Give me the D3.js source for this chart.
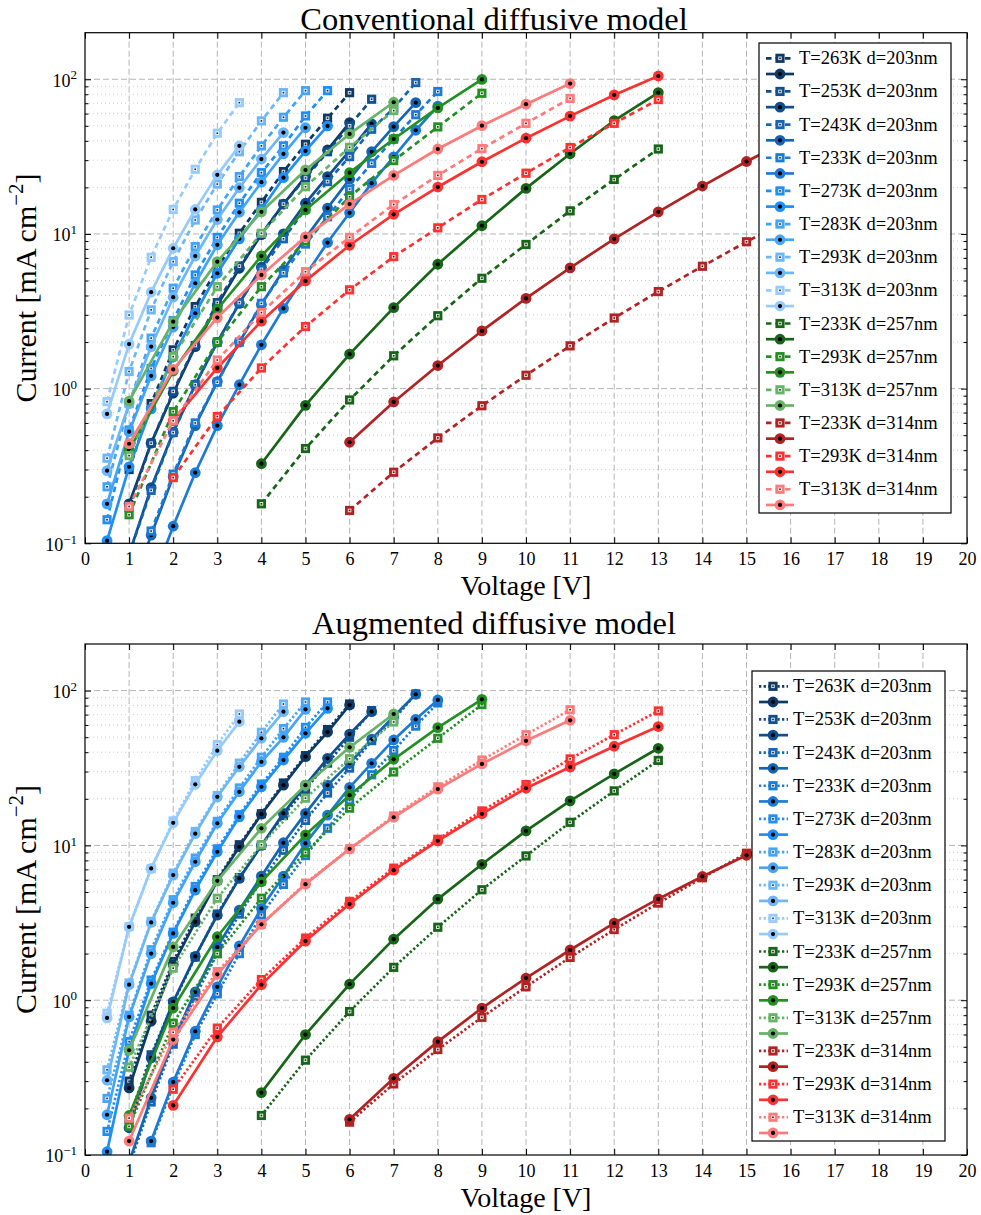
<!DOCTYPE html>
<html>
<head>
<meta charset="utf-8">
<script src="https://cdn.jsdelivr.net/npm/d3@7"></script>
<style>
  body { margin: 0; background: #fff; }
  text { font-family: "Liberation Serif", "DejaVu Serif", serif; fill: #000; }
</style>
</head>
<body>
<svg id="chart" width="981" height="1215"></svg>
<script>
// ---- J-V data: measured current density (mA cm^-2) and two model fits ----
const seriesNames = [
  "T=263K d=203nm", "T=253K d=203nm", "T=243K d=203nm", "T=233K d=203nm",
  "T=273K d=203nm", "T=283K d=203nm", "T=293K d=203nm", "T=313K d=203nm",
  "T=233K d=257nm", "T=293K d=257nm", "T=313K d=257nm",
  "T=233K d=314nm", "T=293K d=314nm", "T=313K d=314nm"
];
const seriesColors = [
  "#0f3a66", "#104f8f", "#1565b5", "#1c7bd6",
  "#1f8ff5", "#44a4f8", "#6db7f9", "#96cbfb",
  "#176617", "#239023", "#66b366",
  "#b22222", "#ff3030", "#ff7a7a"
];

// d = 203 nm
const v263 = [1, 1.5, 2, 2.5, 3, 3.5, 4, 4.5, 5, 5.5, 6];
const meas263 = [0.30, 0.80, 1.78, 3.39, 6.0, 10.1, 16.0, 25.3, 38.0, 56, 81.9];
const conv263 = [0.18, 0.444, 0.934, 1.87, 3.45, 6.0, 9.9, 15.6, 23.5, 34.9, 52.4];
const aug263 = [0.271, 0.731, 1.7, 3.21, 5.9, 9.8, 15.9, 24.5, 37.4, 54, 80.7];

const v253 = [1, 1.5, 2, 2.5, 3, 3.5, 4, 4.5, 5, 5.5, 6, 6.5];
const meas253 = [0.17, 0.444, 0.96, 1.9, 3.6, 6.2, 10.0, 15.6, 23.0, 34.0, 50.0, 74.3];
const conv253 = [0.085, 0.229, 0.523, 1.06, 2.0, 3.56, 6.1, 10.0, 15.8, 23.5, 34.5, 51.4];
const aug253 = [0.15, 0.424, 0.975, 1.92, 3.54, 6.12, 10.0, 16.1, 24.5, 36.5, 52.4, 73.1];

const v243 = [1, 1.5, 2, 2.5, 3, 3.5, 4, 4.5, 5, 5.5, 6, 6.5, 7, 7.5];
const meas243 = [0.085, 0.22, 0.52, 1.06, 2.0, 3.6, 5.9, 9.3, 14.5, 21.8, 31.6, 47.5, 65, 95.2];
const conv243 = [0.045, 0.113, 0.27, 0.577, 1.11, 2.0, 3.5, 5.85, 9.4, 14.7, 22.6, 34.0, 49.4, 70.6];
const aug243 = [0.09, 0.234, 0.55, 1.13, 2.2, 3.82, 6.33, 10.4, 16.1, 24.5, 34.0, 48.5, 68, 94.7];

const v233 = [1.5, 2, 2.5, 3, 3.5, 4, 4.5, 5, 5.5, 6, 6.5, 7, 7.5, 8];
const meas233 = [0.12, 0.28, 0.60, 1.1, 2.0, 3.56, 5.6, 8.6, 12.9, 19.5, 28.6, 41, 59, 83.3];
const conv233 = [0.054, 0.129, 0.286, 0.577, 1.06, 1.92, 3.3, 5.4, 8.8, 13.7, 21.3, 31.5, 46.8, 67];
const aug233 = [0.123, 0.296, 0.63, 1.22, 2.24, 3.92, 6.33, 10.3, 15.7, 23.7, 33.9, 48, 65.2, 87];

const v273 = [0.5, 1, 1.5, 2, 2.5, 3, 3.5, 4, 4.5, 5, 5.5];
const meas273 = [0.142, 0.54, 1.35, 2.75, 5.43, 9.5, 15.8, 24.9, 37.1, 57.9, 84.4];
const conv273 = [0.104, 0.312, 0.74, 1.6, 3.07, 5.57, 9.3, 14.4, 23.1, 34.4, 49.9];
const aug273 = [0.105, 0.48, 1.28, 2.7, 5.14, 9.1, 15.3, 23.9, 35.6, 53, 76.8];

const v283 = [0.5, 1, 1.5, 2, 2.5, 3, 3.5, 4, 4.5, 5];
const meas283 = [0.232, 0.80, 2.12, 4.46, 8.28, 14.3, 23.5, 37.1, 56.8, 84.4];
const conv283 = [0.18, 0.527, 1.21, 2.5, 4.8, 8.5, 13.8, 21.6, 32.9, 48.6];
const aug283 = [0.182, 0.78, 2.0, 4.26, 7.84, 13.9, 22.2, 34.7, 49.9, 75.7];

const v293 = [0.5, 1, 1.5, 2, 2.5, 3, 3.5, 4, 4.5];
const meas293 = [0.355, 1.29, 3.23, 6.62, 12.3, 21.0, 34.0, 53.8, 81.9];
const conv293 = [0.295, 0.8, 1.87, 3.9, 7.2, 12.4, 19.9, 30.5, 45.2];
const aug293 = [0.304, 1.26, 3.18, 6.43, 11.9, 20.6, 32.2, 49.2, 73.1];

const v313 = [0.5, 1, 1.5, 2, 2.5, 3, 3.5];
const meas313 = [0.824, 2.99, 7.07, 14.4, 26.2, 44.8, 70.6];
const conv313 = [0.686, 1.94, 4.2, 8.08, 14.4, 24.1, 37.1];
const aug313 = [0.768, 2.98, 7.1, 14.0, 24.8, 40.9, 63];

// d = 257 nm
const v233b = [4, 5, 6, 7, 8, 9, 10, 11, 12, 13];
const meas233b = [0.18, 0.41, 0.845, 1.63, 2.96, 5.17, 8.55, 14.1, 22.5, 35.4];
const conv233b = [0.327, 0.78, 1.67, 3.34, 6.37, 11.3, 19.7, 33.0, 54, 82];
const aug233b = [0.253, 0.60, 1.27, 2.48, 4.5, 7.55, 12.4, 19.4, 29.0, 42.4];

const v293b = [1, 2, 3, 4, 5, 6, 7, 8, 9];
const meas293b = [0.153, 0.71, 2.0, 4.56, 9.0, 17.4, 29.8, 49.2, 81.2];
const conv293b = [0.40, 1.3, 3.26, 7.2, 14.3, 24.9, 41.1, 65.3, 99.7];
const aug293b = [0.18, 0.89, 2.57, 5.82, 11.7, 21.1, 36, 57.7, 87.8];

const v313b = [1, 2, 3, 4, 5, 6, 7];
const meas313b = [0.369, 1.61, 4.56, 10.1, 20.2, 36.3, 62.7];
const conv313b = [0.83, 2.71, 6.62, 13.9, 25.9, 44.3, 71.0];
const aug313b = [0.475, 2.21, 5.9, 12.9, 24.5, 43, 70.6];

// d = 314 nm
const v233c = [6, 7, 8, 9, 10, 11, 12, 13, 14, 15, 16];
const meas233c = [0.163, 0.288, 0.48, 0.775, 1.22, 1.89, 2.86, 4.24, 6.18, 8.9, 12.5];
const conv233c = [0.45, 0.82, 1.41, 2.36, 3.83, 6.03, 9.3, 13.9, 20.4, 29.4, 41];
const aug233c = [0.17, 0.313, 0.54, 0.89, 1.39, 2.11, 3.15, 4.51, 6.3, 8.63, 11.8];

const v293c = [2, 3, 4, 5, 6, 7, 8, 9, 10, 11, 12, 13];
const meas293c = [0.266, 0.66, 1.36, 2.52, 4.35, 7.13, 10.95, 16.7, 24.7, 36.2, 51.9, 73.9];
const conv293c = [0.62, 1.36, 2.73, 4.97, 8.45, 13.4, 20.1, 29.3, 41.6, 57.8, 79.2, 105];
const aug293c = [0.209, 0.58, 1.26, 2.41, 4.18, 6.92, 10.7, 16.0, 23.4, 32.1, 43.7, 58.6];

const v313c = [1, 2, 3, 4, 5, 6, 7, 8, 9, 10, 11];
const meas313c = [0.173, 0.62, 1.53, 3.1, 5.7, 9.5, 15.5, 23.9, 35.6, 51.9, 75.2];
const conv313c = [0.44, 1.33, 2.88, 5.43, 9.57, 15.6, 23.9, 35.4, 50.1, 69, 93.8];
const aug313c = [0.123, 0.557, 1.47, 3.09, 5.62, 9.5, 15.2, 23.1, 33.6, 47.4, 64.3];

// axis ticks
const voltageTicks = d3.range(0, 21);
const currentMajorTicks = [0.1, 1, 10, 100];
const currentExponents = ["\u22121", "0", "1", "2"];

// series table assembled in legend order
const voltages = [v263, v253, v243, v233, v273, v283, v293, v313, v233b, v293b, v313b, v233c, v293c, v313c];
const measured = [meas263, meas253, meas243, meas233, meas273, meas283, meas293, meas313, meas233b, meas293b, meas313b, meas233c, meas293c, meas313c];
const conventional = [conv263, conv253, conv243, conv233, conv273, conv283, conv293, conv313, conv233b, conv293b, conv313b, conv233c, conv293c, conv313c];
const augmented = [aug263, aug253, aug243, aug233, aug273, aug283, aug293, aug313, aug233b, aug293b, aug313b, aug233c, aug293c, aug313c];

const series = seriesNames.map((name, i) => ({
  name, color: seriesColors[i],
  meas: voltages[i].map((v, k) => [v, measured[i][k]]),
  conv: voltages[i].map((v, k) => [v, conventional[i][k]]),
  aug: voltages[i].map((v, k) => [v, augmented[i][k]])
}));

// ---- layout ----
const svg = d3.select("#chart");
const plotL = 85, plotR = 967;
const panels = [
  { title: "Conventional diffusive model", titleY: 30, top: 32.7, bottom: 543.3, model: "conv",
    dash: "5.5,4", legend: { x: 759, y: 43, w: 192, h: 470, lx0: 766, lx1: 794, mx: 780, tx: 799 } },
  { title: "Augmented diffusive model", titleY: 634, top: 644, bottom: 1155, model: "aug",
    dash: "2.3,2.3", legend: { x: 752, y: 671, w: 193, h: 470, lx0: 759, lx1: 788, mx: 773, tx: 793 } }
];

const LW = 2.7;

// filled square with a small light centre, and a filled circle with a black centre
function squareMark(g, cx, cy, color) {
  g.append("rect").attr("x", cx - 4.6).attr("y", cy - 4.6).attr("width", 9.2).attr("height", 9.2)
    .attr("fill", color);
  g.append("rect").attr("x", cx - 1.8).attr("y", cy - 1.8).attr("width", 3.6).attr("height", 3.6)
    .attr("fill", "#fff").attr("fill-opacity", 0.85);
  g.append("rect").attr("x", cx - 0.8).attr("y", cy - 0.8).attr("width", 1.6).attr("height", 1.6)
    .attr("fill", "#222");
}
function circleMark(g, cx, cy, color) {
  g.append("circle").attr("cx", cx).attr("cy", cy).attr("r", 5.4).attr("fill", color);
  g.append("circle").attr("cx", cx).attr("cy", cy).attr("r", 2.1).attr("fill", "#000");
}

panels.forEach((p, pi) => {
  const x = d3.scaleLinear().domain([0, 20]).range([plotL, plotR]);
  const y = d3.scaleLog().domain([0.1, 200]).range([p.bottom, p.top]);
  const g = svg.append("g");

  // title
  g.append("text").attr("x", 494).attr("y", p.titleY).attr("text-anchor", "middle")
    .attr("font-size", 32.5).text(p.title);

  // minor horizontal grid (dotted)
  const minor = [];
  [-1, 0, 1, 2].forEach(k => { for (let m = 2; m <= 9; m++) { const v = m * Math.pow(10, k); if (v < 200) minor.push(v); } });
  g.append("g").selectAll("line").data(minor).join("line")
    .attr("x1", plotL).attr("x2", plotR).attr("y1", d => y(d)).attr("y2", d => y(d))
    .attr("stroke", "#cfcfcf").attr("stroke-width", 1).attr("stroke-dasharray", "1,3");
  // major grid (dashed)
  g.append("g").selectAll("line").data([1, 10, 100]).join("line")
    .attr("x1", plotL).attr("x2", plotR).attr("y1", d => y(d)).attr("y2", d => y(d))
    .attr("stroke", "#b5b5b5").attr("stroke-width", 1).attr("stroke-dasharray", "6,3");
  g.append("g").selectAll("line").data(voltageTicks.slice(1, -1)).join("line")
    .attr("x1", d => x(d)).attr("x2", d => x(d)).attr("y1", p.top).attr("y2", p.bottom)
    .attr("stroke", "#b5b5b5").attr("stroke-width", 1).attr("stroke-dasharray", "6,3");

  // clip region
  const clipId = "clip" + pi;
  svg.append("clipPath").attr("id", clipId).append("rect")
    .attr("x", plotL).attr("y", p.top).attr("width", plotR - plotL).attr("height", p.bottom - p.top);
  const data = g.append("g").attr("clip-path", `url(#${clipId})`);
  const line = d3.line().x(d => x(d[0])).y(d => y(d[1]));

  series.forEach(s => {
    data.append("path").attr("d", line(s.meas)).attr("fill", "none").attr("stroke", s.color)
      .attr("stroke-width", LW).attr("stroke-dasharray", p.dash);
    const mg = data.append("g");
    s.meas.forEach(d => squareMark(mg, x(d[0]), y(d[1]), s.color));
    const model = s[p.model];
    data.append("path").attr("d", line(model)).attr("fill", "none").attr("stroke", s.color)
      .attr("stroke-width", LW).attr("stroke-linejoin", "round");
    const cg = data.append("g");
    model.forEach(d => circleMark(cg, x(d[0]), y(d[1]), s.color));
  });

  // axes with inward ticks on all sides
  const styleAxis = a => { a.select(".domain").remove(); a.selectAll(".tick line").attr("stroke", "#000").attr("stroke-width", 1); };
  g.append("g").attr("transform", `translate(0,${p.bottom})`)
    .call(d3.axisBottom(x).tickValues(voltageTicks).tickSizeInner(-6).tickSizeOuter(0).tickPadding(9).tickFormat(d3.format("d")))
    .call(styleAxis)
    .call(a => a.selectAll(".tick text").attr("font-size", 18).attr("font-family", "Liberation Serif").attr("fill", "#000"));
  g.append("g").attr("transform", `translate(0,${p.top})`)
    .call(d3.axisTop(x).tickValues(voltageTicks).tickSizeInner(-6).tickSizeOuter(0).tickFormat(""))
    .call(styleAxis);
  g.append("g").attr("transform", `translate(${plotL},0)`)
    .call(d3.axisLeft(y).tickValues(minor).tickSizeInner(-3.5).tickSizeOuter(0).tickFormat(""))
    .call(styleAxis);
  g.append("g").attr("transform", `translate(${plotR},0)`)
    .call(d3.axisRight(y).tickValues(minor).tickSizeInner(-3.5).tickSizeOuter(0).tickFormat(""))
    .call(styleAxis);
  g.append("g").attr("transform", `translate(${plotR},0)`)
    .call(d3.axisRight(y).tickValues(currentMajorTicks).tickSizeInner(-6).tickSizeOuter(0).tickFormat(""))
    .call(styleAxis);
  g.append("g").attr("transform", `translate(${plotL},0)`)
    .call(d3.axisLeft(y).tickValues(currentMajorTicks).tickSizeInner(-6).tickSizeOuter(0).tickPadding(8).tickFormat(""))
    .call(styleAxis)
    .call(a => a.selectAll(".tick text").each(function(d, i) {
      const t = d3.select(this).attr("font-size", 18).attr("font-family", "Liberation Serif")
        .attr("fill", "#000").attr("dy", "0.38em").attr("x", -8);
      t.append("tspan").text("10");
      t.append("tspan").attr("font-size", 13).attr("dy", "-0.55em").text(currentExponents[i]);
    }));

  // frame
  g.append("rect").attr("x", plotL).attr("y", p.top).attr("width", plotR - plotL).attr("height", p.bottom - p.top)
    .attr("fill", "none").attr("stroke", "#000").attr("stroke-width", 1.2);

  // axis labels
  g.append("text").attr("x", (plotL + plotR) / 2).attr("y", p.bottom + 52).attr("text-anchor", "middle")
    .attr("font-size", 28).text("Voltage [V]");
  const yl = g.append("text").attr("transform", `translate(36,${(p.top + p.bottom) / 2}) rotate(-90)`)
    .attr("text-anchor", "middle").attr("font-size", 30);
  yl.append("tspan").text("Current [mA\u2009cm");
  yl.append("tspan").attr("font-size", 21).attr("dy", "-0.6em").text("\u22122");
  yl.append("tspan").attr("dy", "0.42em").text("]");

  // legend
  const L = p.legend;
  const lg = g.append("g");
  lg.append("rect").attr("x", L.x).attr("y", L.y).attr("width", L.w).attr("height", L.h)
    .attr("fill", "#fff").attr("stroke", "#000").attr("stroke-width", 1.2);
  series.forEach((s, i) => {
    const ys = L.y + 15.3 + i * 33.15;
    const yc = ys + 15.7;
    lg.append("line").attr("x1", L.lx0).attr("x2", L.lx1).attr("y1", ys).attr("y2", ys)
      .attr("stroke", s.color).attr("stroke-width", LW).attr("stroke-dasharray", p.dash);
    squareMark(lg, L.mx, ys, s.color);
    lg.append("line").attr("x1", L.lx0).attr("x2", L.lx1).attr("y1", yc).attr("y2", yc)
      .attr("stroke", s.color).attr("stroke-width", LW);
    circleMark(lg, L.mx, yc, s.color);
    lg.append("text").attr("x", L.tx).attr("y", ys + 6).attr("font-size", 18.5).text(s.name);
  });
});
</script>
</body>
</html>
